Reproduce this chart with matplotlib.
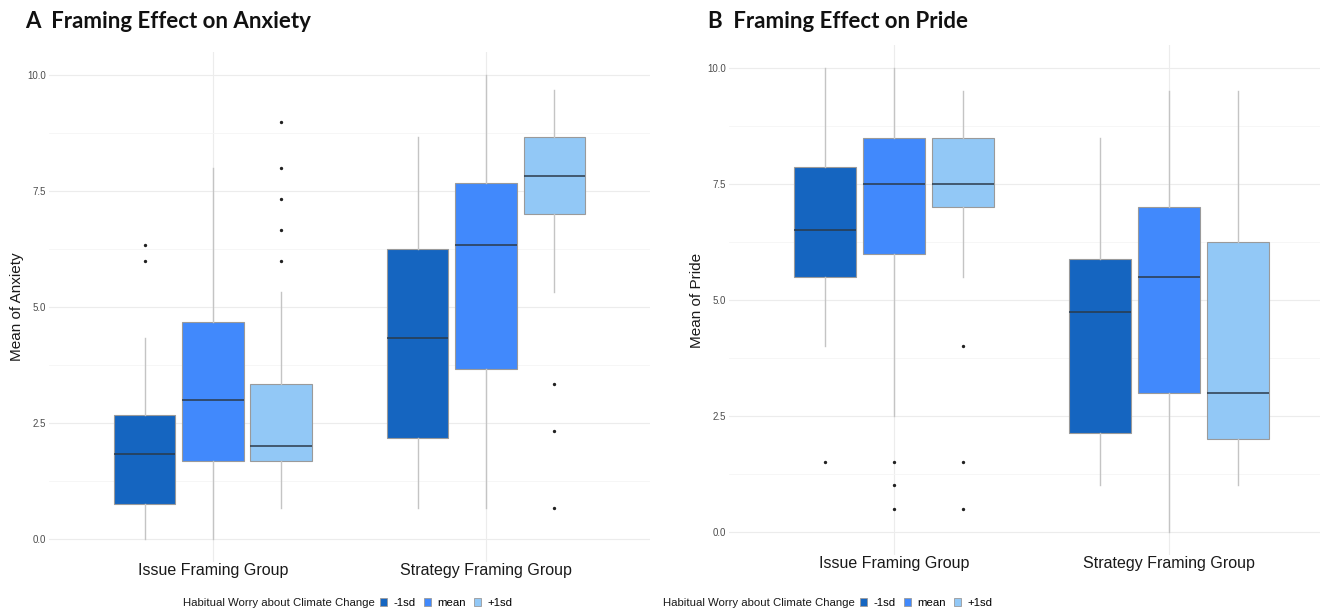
import matplotlib.pyplot as plt
from matplotlib.patches import Patch

plt.rcParams['font.family'] = ['Liberation Sans', 'DejaVu Sans']

groups = ['Issue Framing Group', 'Strategy Framing Group']
levels = ['-1sd', 'mean', '+1sd']
colors = ['#1565c0', '#4189fc', '#92c8f6']
legend_title = 'Habitual Worry about Climate Change'

# box summaries per group, in level order: (whislo, q1, median, q3, whishi)
anx_issue = [(0.0, 0.75, 1.83, 2.67, 4.33),
             (0.0, 1.67, 3.0, 4.67, 8.0),
             (0.67, 1.67, 2.0, 3.33, 5.33)]
anx_strategy = [(0.67, 2.17, 4.33, 6.25, 8.67),
                (0.67, 3.67, 6.33, 7.67, 10.0),
                (5.33, 7.0, 7.83, 8.67, 9.67)]
anx_out_issue = [[6.33, 6.0], [], [9.0, 8.0, 7.33, 6.67, 6.0]]
anx_out_strategy = [[], [], [3.33, 2.33, 0.67]]

pride_issue = [(4.0, 5.5, 6.5, 7.875, 10.0),
               (2.5, 6.0, 7.5, 8.5, 10.0),
               (5.5, 7.0, 7.5, 8.5, 9.5)]
pride_strategy = [(1.0, 2.125, 4.75, 5.875, 8.5),
                  (0.0, 3.0, 5.5, 7.0, 9.5),
                  (1.0, 2.0, 3.0, 6.25, 9.5)]
pride_out_issue = [[1.5], [1.5, 1.0, 0.5], [4.0, 1.5, 0.5]]
pride_out_strategy = [[], [], []]

yticks = [0.0, 2.5, 5.0, 7.5, 10.0]
offsets = [-0.25, 0.0, 0.25]


def draw_panel(ax, summaries, outliers, xmax):
    for g, (boxes, outs) in enumerate(zip(summaries, outliers)):
        for k, (s, o) in enumerate(zip(boxes, outs)):
            stats = [dict(whislo=s[0], q1=s[1], med=s[2], q3=s[3], whishi=s[4],
                          fliers=o)]
            ax.bxp(stats, positions=[g + 1 + offsets[k]], widths=0.225,
                   patch_artist=True, showcaps=False,
                   boxprops=dict(facecolor=colors[k], edgecolor='#9a9a9a', linewidth=0.8),
                   whiskerprops=dict(color='#c4c4c4', linewidth=1.0),
                   medianprops=dict(color='#2b3a4a', linewidth=1.1),
                   flierprops=dict(marker='o', markersize=1.4, markerfacecolor='#222222',
                                   markeredgecolor='#222222'))
    ax.set_xlim(0.4, xmax)
    ax.set_ylim(-0.5, 10.5)
    ax.set_xticks([1, 2])
    ax.set_xticklabels(groups, fontsize=11.5, color='#1a1a1a')
    ax.set_yticks(yticks)
    ax.set_yticklabels(['%.1f' % v for v in yticks], fontsize=7, color='#4d4d4d')
    ax.set_yticks([1.25, 3.75, 6.25, 8.75], minor=True)
    ax.tick_params(length=0, which='both')
    ax.tick_params(axis='x', pad=1)
    ax.tick_params(axis='y', pad=2)
    ax.grid(True, which='major', color='#ececec', linewidth=0.8)
    ax.grid(True, which='minor', axis='y', color='#f5f5f5', linewidth=0.6)
    ax.set_axisbelow(True)
    for sp in ax.spines.values():
        sp.set_visible(False)


W, H = 1320, 610
fig = plt.figure(figsize=(13.2, 6.1), dpi=100)
ax1 = fig.add_axes([0.0371, 0.0787, 0.4553, 0.8361])
ax2 = fig.add_axes([0.5523, 0.0902, 0.4477, 0.8360])

draw_panel(ax1, [anx_issue, anx_strategy], [anx_out_issue, anx_out_strategy], 2.6)
draw_panel(ax2, [pride_issue, pride_strategy], [pride_out_issue, pride_out_strategy], 2.549)

# panel titles and y-axis labels
for x, text in [(25, 'A  Framing Effect on Anxiety'), (708, 'B  Framing Effect on Pride')]:
    fig.text(x / W, 1 - 21 / H, text, fontsize=16, fontweight='bold',
             family=['Lato', 'DejaVu Sans'], va='center', ha='left', color='#111111')
for x, y, text in [(17, 307, 'Mean of Anxiety'), (697, 300, 'Mean of Pride')]:
    fig.text(x / W, 1 - y / H, text, fontsize=11, rotation=90, va='center',
             ha='center', color='#1a1a1a')

handles = [Patch(facecolor=c, edgecolor='#9a9a9a', linewidth=0.6) for c in colors]
for x_title, x_leg in [(183, 380), (663, 860)]:
    fig.text(x_title / W, 1 - 603 / H, legend_title, fontsize=8.2, color='#1a1a1a',
             va='center')
    fig.legend(handles, levels, loc='center left', bbox_to_anchor=(x_leg / W, 1 - 603 / H),
               ncol=3, frameon=False, fontsize=8.2, handlelength=0.6, handleheight=0.6,
               handletextpad=0.6, columnspacing=0.7, borderpad=0, borderaxespad=0)

fig.savefig('out.png', dpi=100)
